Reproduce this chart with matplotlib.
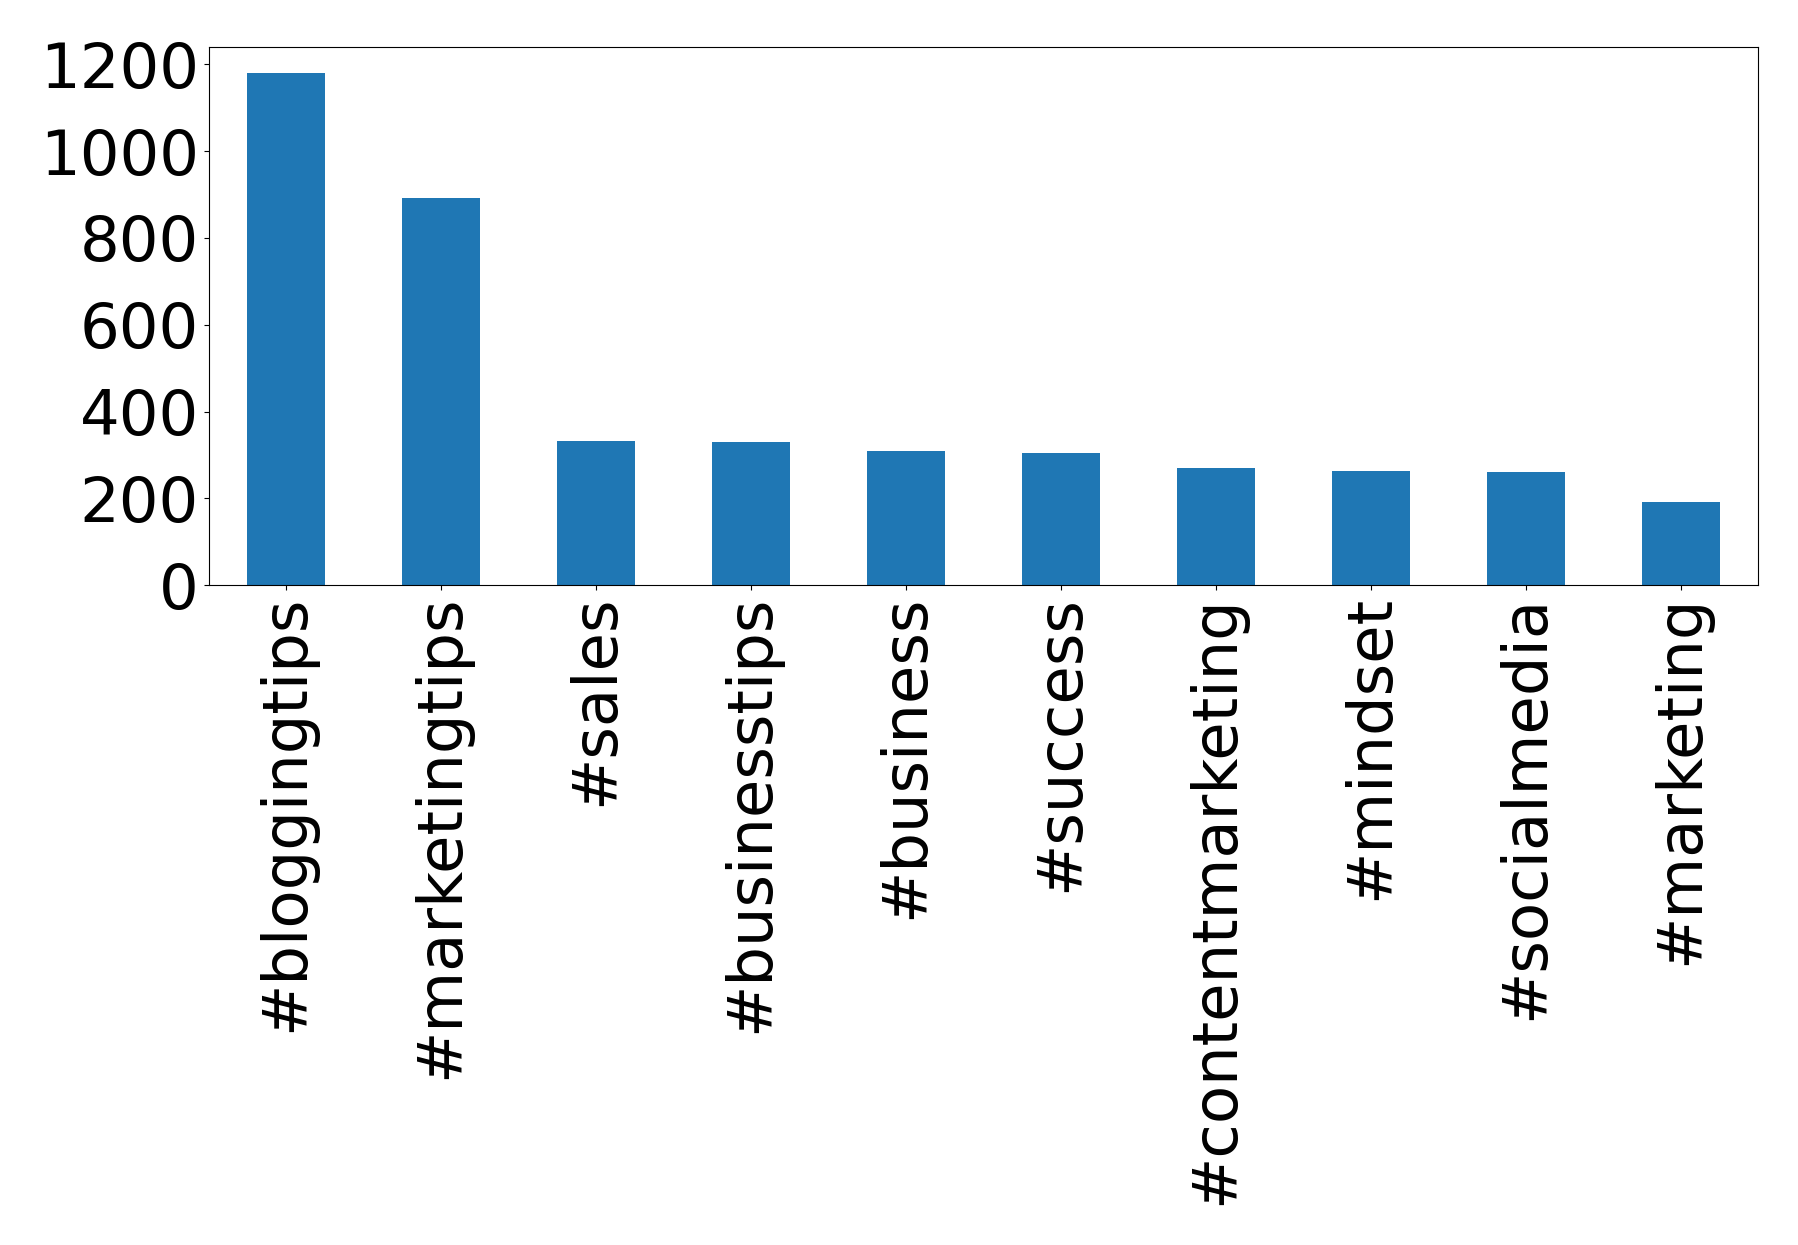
import matplotlib
matplotlib.use("Agg")
import matplotlib.pyplot as plt
import numpy as np

hashtags = ['#bloggingtips', '#marketingtips', '#sales', '#businesstips', '#business',
            '#success', '#contentmarketing', '#mindset', '#socialmedia', '#marketing']
counts = [1180, 891, 333, 329, 308, 305, 269, 264, 260, 191]
yticks = [0, 200, 400, 600, 800, 1000, 1200]

fig, ax = plt.subplots(figsize=(17.98, 12.45), dpi=100)
x = np.arange(len(hashtags))
ax.bar(x, counts, width=0.5, color='#1f77b4')
ax.set_xlim(-0.5, len(hashtags) - 0.5)
ax.set_xticks(x)
ax.set_xticklabels(hashtags, rotation=90)
ax.set_yticks(yticks)
ax.tick_params(axis='both', labelsize=45)
fig.subplots_adjust(left=0.116, right=0.978, top=0.962, bottom=0.53)
fig.savefig('out.png')
